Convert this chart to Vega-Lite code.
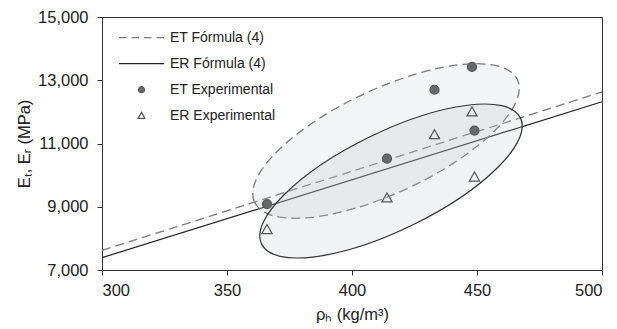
{
  "$schema": "https://vega.github.io/schema/vega-lite/v6.json",
  "width": 500,
  "height": 253,
  "autosize": "none",
  "padding": {"left": 102, "top": 17, "right": 15, "bottom": 59},
  "background": "white",
  "config": {
    "font": "Liberation Sans",
    "view": {"stroke": "#333333", "strokeWidth": 1},
    "axis": {
      "grid": false,
      "domainColor": "#333333",
      "tickColor": "#333333",
      "tickSize": 5,
      "labelColor": "#222222",
      "titleColor": "#222222",
      "labelFont": "Liberation Sans",
      "titleFont": "Liberation Sans",
      "labelFontSize": 16.5,
      "titleFontSize": 16.5,
      "titleFontWeight": "normal"
    }
  },
  "datasets": {
    "lines": [
      {"series": "ET Fórmula (4)", "rho": 300, "E": 7620},
      {"series": "ET Fórmula (4)", "rho": 500, "E": 12630},
      {"series": "ER Fórmula (4)", "rho": 300, "E": 7390},
      {"series": "ER Fórmula (4)", "rho": 500, "E": 12320}
    ],
    "ellipses": [
      {"name": "ET", "rho": 413.6, "E": 11079},
      {"name": "ER", "rho": 415.6, "E": 9814}
    ],
    "points": [
      {"series": "ET Experimental", "rho": 366, "E": 9080},
      {"series": "ET Experimental", "rho": 414, "E": 10520},
      {"series": "ET Experimental", "rho": 433, "E": 12700},
      {"series": "ET Experimental", "rho": 448, "E": 13420},
      {"series": "ET Experimental", "rho": 449, "E": 11410},
      {"series": "ER Experimental", "rho": 366, "E": 8280},
      {"series": "ER Experimental", "rho": 414, "E": 9280},
      {"series": "ER Experimental", "rho": 433, "E": 11280},
      {"series": "ER Experimental", "rho": 448, "E": 12000},
      {"series": "ER Experimental", "rho": 449, "E": 9940}
    ]
  },
  "encoding": {
    "x": {
      "field": "rho",
      "type": "quantitative",
      "scale": {"domain": [300, 500], "nice": false, "zero": false},
      "axis": {
        "title": "ρₕ (kg/m³)",
        "values": [300, 350, 400, 450, 500],
        "format": ".0f",
        "labelPadding": 7,
        "titlePadding": 8
      }
    },
    "y": {
      "field": "E",
      "type": "quantitative",
      "scale": {"domain": [7000, 15000], "nice": false, "zero": false},
      "axis": {
        "title": "Eₜ, Eᵣ (MPa)",
        "values": [7000, 9000, 11000, 13000, 15000],
        "format": ",.0f",
        "labelPadding": 9,
        "titlePadding": 5
      }
    }
  },
  "layer": [
    {
      "data": {"name": "lines"},
      "transform": [{"filter": "datum.series === 'ET Fórmula (4)'"}],
      "mark": {"type": "line", "stroke": "#7a7a7a", "strokeWidth": 1.3, "strokeDash": [9, 5]}
    },
    {
      "data": {"name": "lines"},
      "transform": [{"filter": "datum.series === 'ER Fórmula (4)'"}],
      "mark": {"type": "line", "stroke": "#222222", "strokeWidth": 1.2}
    },
    {
      "data": {"name": "ellipses"},
      "transform": [{"filter": "datum.name === 'ET'"}],
      "mark": {
        "type": "point",
        "shape": "M-145,0A145,52 0 1,0 145,0A145,52 0 1,0 -145,0Z",
        "size": 4,
        "angle": 335,
        "filled": true,
        "fill": "#bcc2c9",
        "fillOpacity": 0.18,
        "stroke": "#7a7a7a",
        "strokeWidth": 1.3,
        "strokeDash": [9, 5],
        "opacity": 1
      }
    },
    {
      "data": {"name": "ellipses"},
      "transform": [{"filter": "datum.name === 'ER'"}],
      "mark": {
        "type": "point",
        "shape": "M-144,0A144,49 0 1,0 144,0A144,49 0 1,0 -144,0Z",
        "size": 4,
        "angle": 334,
        "filled": true,
        "fill": "#bcc2c9",
        "fillOpacity": 0.22,
        "stroke": "#333333",
        "strokeWidth": 1.2,
        "opacity": 1
      }
    },
    {
      "data": {"name": "points"},
      "mark": {"type": "point", "size": 900, "strokeWidth": 1.2, "opacity": 1},
      "encoding": {
        "shape": {
          "field": "series",
          "type": "nominal",
          "scale": {
            "domain": ["ET Fórmula (4)", "ER Fórmula (4)", "ET Experimental", "ER Experimental"],
            "range": [
              "M0,-1M0,1M-2.25,0H-1.5M-1,0H-0.25M0.25,0H1M1.5,0H2.25",
              "M0,-1M0,1M-2.25,0H2.25",
              "M0,-1M0,1M-0.3,0A0.3,0.3 0 1,0 0.3,0A0.3,0.3 0 1,0 -0.3,0Z",
              "M0,-1M0,1M0,-0.33L0.34,0.27L-0.34,0.27Z"
            ]
          },
          "legend": {
            "title": null,
            "orient": "none",
            "direction": "vertical",
            "legendX": 28.5,
            "legendY": 9.7,
            "padding": 0,
            "symbolSize": 400,
            "symbolStrokeWidth": 1.2,
            "symbolOpacity": 1,
            "labelFont": "Liberation Sans",
            "labelFontSize": 14,
            "labelColor": "#222222",
            "labelOffset": 17.5,
            "rowPadding": 0
          }
        },
        "fill": {
          "field": "series",
          "type": "nominal",
          "scale": {
            "domain": ["ET Fórmula (4)", "ER Fórmula (4)", "ET Experimental", "ER Experimental"],
            "range": ["transparent", "transparent", "#686868", "transparent"]
          },
          "legend": {
            "title": null,
            "orient": "none",
            "direction": "vertical",
            "legendX": 28.5,
            "legendY": 9.7,
            "padding": 0,
            "symbolSize": 400,
            "symbolStrokeWidth": 1.2,
            "symbolOpacity": 1,
            "labelFont": "Liberation Sans",
            "labelFontSize": 14,
            "labelColor": "#222222",
            "labelOffset": 17.5,
            "rowPadding": 0
          }
        },
        "stroke": {
          "field": "series",
          "type": "nominal",
          "scale": {
            "domain": ["ET Fórmula (4)", "ER Fórmula (4)", "ET Experimental", "ER Experimental"],
            "range": ["#7a7a7a", "#222222", "#555555", "#555555"]
          },
          "legend": {
            "title": null,
            "orient": "none",
            "direction": "vertical",
            "legendX": 28.5,
            "legendY": 9.7,
            "padding": 0,
            "symbolSize": 400,
            "symbolStrokeWidth": 1.2,
            "symbolOpacity": 1,
            "labelFont": "Liberation Sans",
            "labelFontSize": 14,
            "labelColor": "#222222",
            "labelOffset": 17.5,
            "rowPadding": 0
          }
        }
      }
    }
  ]
}
